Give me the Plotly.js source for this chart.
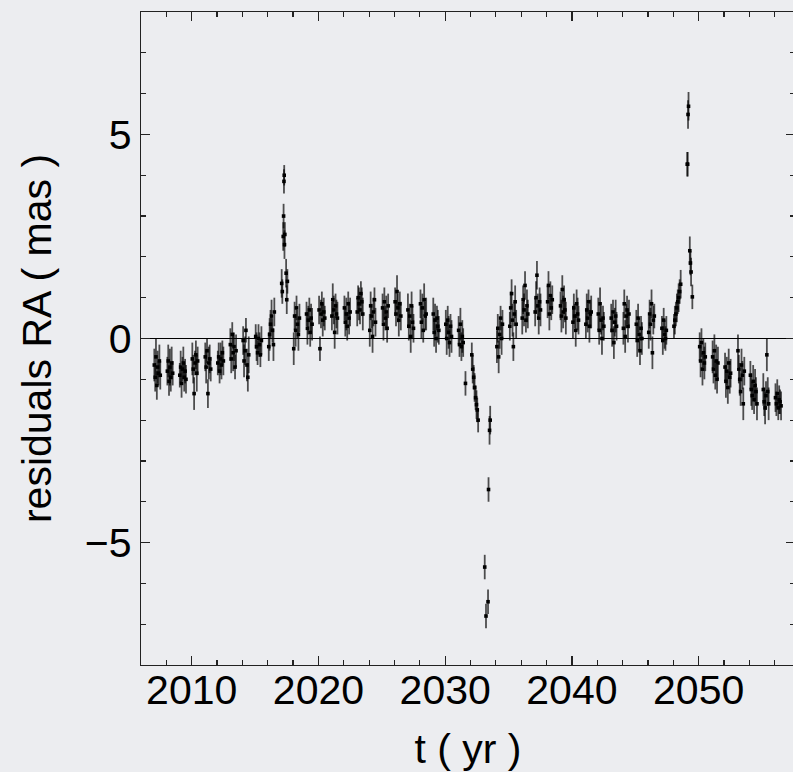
<!DOCTYPE html>
<html>
<head>
<meta charset="utf-8">
<script src="https://cdn.plot.ly/plotly-3.0.1.min.js"></script>
<style>
  html, body { margin: 0; padding: 0; background: #ecedf0; overflow: hidden; }
  #chart { width: 797px; height: 772px; }
</style>
</head>
<body>
<div id="chart"></div>
<script>
// Astrometric residuals in right ascension, one group of observations per season.
const tObs = [
  2007.05, 2007.12, 2007.18, 2007.25, 2007.31, 2007.38, 2007.45, 2007.52,
  2008.08, 2008.15, 2008.21, 2008.28, 2008.35, 2008.42, 2008.50,
  2009.06, 2009.13, 2009.20, 2009.27, 2009.34, 2009.41, 2009.48, 2009.55,
  2010.05, 2010.12, 2010.19, 2010.26, 2010.33, 2010.40, 2010.47,
  2011.07, 2011.14, 2011.21, 2011.28, 2011.35, 2011.42, 2011.50,
  2012.06, 2012.13, 2012.20, 2012.28, 2012.35, 2012.42, 2012.50,
  2013.05, 2013.12, 2013.20, 2013.27, 2013.34, 2013.42, 2013.50,
  2014.06, 2014.13, 2014.21, 2014.28, 2014.36, 2014.43, 2014.50,
  2015.05, 2015.12, 2015.20, 2015.27, 2015.35, 2015.42, 2015.50,
  2016.08, 2016.15, 2016.22, 2016.30, 2016.37, 2016.45, 2016.52,
  2017.10, 2017.15, 2017.22, 2017.25, 2017.28, 2017.30, 2017.32, 2017.35, 2017.45, 2017.50, 2017.55,
  2018.05, 2018.12, 2018.20, 2018.27, 2018.34, 2018.42, 2018.50,
  2019.06, 2019.13, 2019.20, 2019.28, 2019.35, 2019.42, 2019.50,
  2020.05, 2020.12, 2020.20, 2020.27, 2020.34, 2020.42, 2020.50,
  2021.06, 2021.13, 2021.21, 2021.28, 2021.35, 2021.42, 2021.50,
  2022.05, 2022.12, 2022.20, 2022.27, 2022.35, 2022.42, 2022.50,
  2023.06, 2023.13, 2023.20, 2023.28, 2023.35, 2023.42, 2023.50,
  2024.05, 2024.12, 2024.20, 2024.27, 2024.34, 2024.42, 2024.50,
  2025.06, 2025.13, 2025.20, 2025.28, 2025.35, 2025.42, 2025.50,
  2026.05, 2026.12, 2026.20, 2026.27, 2026.34, 2026.42, 2026.50,
  2027.06, 2027.13, 2027.21, 2027.28, 2027.35, 2027.42, 2027.50,
  2028.05, 2028.12, 2028.20, 2028.27, 2028.34, 2028.42, 2028.50,
  2029.06, 2029.13, 2029.20, 2029.28, 2029.35, 2029.42, 2029.50,
  2030.05, 2030.12, 2030.20, 2030.27, 2030.34, 2030.42, 2030.50,
  2031.06, 2031.13, 2031.20, 2031.28, 2031.35, 2031.42, 2031.60,
  2032.10, 2032.17, 2032.25, 2032.32, 2032.40, 2032.47, 2032.53, 2032.60,
  2033.12, 2033.22, 2033.38, 2033.42, 2033.50, 2033.55,
  2034.08, 2034.15, 2034.22, 2034.30, 2034.37, 2034.45, 2034.52,
  2035.10, 2035.17, 2035.24, 2035.31, 2035.38, 2035.45, 2035.52, 2035.60,
  2036.08, 2036.15, 2036.22, 2036.30, 2036.37, 2036.45, 2036.52,
  2037.10, 2037.17, 2037.24, 2037.31, 2037.38, 2037.45, 2037.52,
  2038.08, 2038.15, 2038.22, 2038.30, 2038.37, 2038.45,
  2039.10, 2039.17, 2039.24, 2039.31, 2039.38, 2039.45, 2039.52,
  2040.08, 2040.15, 2040.22, 2040.30, 2040.37, 2040.45, 2040.52,
  2041.10, 2041.17, 2041.24, 2041.31, 2041.38, 2041.45, 2041.52,
  2042.08, 2042.15, 2042.22, 2042.30, 2042.37, 2042.45, 2042.52,
  2043.10, 2043.17, 2043.24, 2043.31, 2043.38, 2043.45, 2043.52,
  2044.06, 2044.13, 2044.20, 2044.28, 2044.35, 2044.42, 2044.50,
  2045.08, 2045.15, 2045.22, 2045.30, 2045.37, 2045.45, 2045.52,
  2046.06, 2046.13, 2046.20, 2046.28, 2046.35, 2046.42, 2046.50,
  2047.10, 2047.17, 2047.24, 2047.31, 2047.38, 2047.45,
  2048.05, 2048.12, 2048.20, 2048.28, 2048.35, 2048.42, 2048.50, 2048.58,
  2049.10, 2049.13, 2049.16, 2049.20, 2049.30, 2049.35, 2049.40, 2049.50,
  2050.08, 2050.15, 2050.22, 2050.30, 2050.37, 2050.45, 2050.52,
  2051.10, 2051.17, 2051.24, 2051.31, 2051.38, 2051.45, 2051.52,
  2052.08, 2052.15, 2052.22, 2052.30, 2052.37, 2052.45, 2052.52,
  2053.10, 2053.17, 2053.24, 2053.31, 2053.38, 2053.45, 2053.52, 2053.60,
  2054.08, 2054.15, 2054.22, 2054.30, 2054.37, 2054.45, 2054.52, 2054.60,
  2055.10, 2055.17, 2055.24, 2055.31, 2055.38, 2055.45, 2055.52,
  2056.06, 2056.13, 2056.20, 2056.28, 2056.35, 2056.42, 2056.50
];

const raResid = [
  -0.65, -0.95, -0.45, -1.15, -0.70, -0.85, -0.55, -0.90,
  -0.80, -0.55, -1.05, -0.70, -0.95, -0.60, -0.85,
  -0.90, -0.70, -1.10, -0.75, -0.60, -0.95, -0.80, -1.00,
  -0.50, -0.75, -1.35, -0.60, -0.40, -0.85, -0.55,
  -0.45, -0.70, -0.30, -1.35, -0.60, -0.50, -0.75,
  -0.60, -0.45, -0.80, -0.50, -0.65, -0.35, -0.55,
  -0.15, -0.50, 0.10, -0.35, -0.20, -0.70, -0.30,
  -0.05, -0.55, -0.30, 0.20, -0.65, -0.95, -0.40,
  0.05, -0.20, -0.35, 0.00, -0.15, -0.40, -0.05,
  -0.20, 0.10, 0.35, 0.55, 0.20, -0.15, 0.65,
  1.35, 1.15, 2.50, 3.00, 3.85, 4.00, 2.30, 2.55, 1.60, 0.95, 1.40,
  -0.25, 0.55, 0.20, 0.75, 0.35, 0.10, 0.50,
  0.60, 0.25, 0.45, 0.70, 0.15, 0.50, 0.35,
  0.70, -0.25, 0.60, 0.85, 0.45, 0.65, 0.50,
  0.55, 0.95, 0.70, 0.15, 0.80, 0.60, 0.50,
  0.75, 0.40, 0.60, 0.30, 0.85, 0.50, 0.65,
  0.65, 1.00, 0.85, 0.70, 1.10, 0.90, 0.60,
  0.20, 0.80, 0.55, 0.05, 0.65, 0.95, 0.40,
  0.75, 0.35, 0.90, 0.50, 0.65, 0.25, 0.80,
  0.90, 0.60, 1.15, 0.75, 0.45, 0.85, 0.55,
  0.70, 0.30, 0.55, 0.05, 0.80, 0.40, 0.25,
  0.85, 0.40, 0.75, 0.20, 0.95, 0.55, 0.60,
  0.60, 0.15, 0.45, 0.00, 0.50, 0.30, 0.20,
  0.35, 0.00, 0.45, 0.15, -0.10, 0.30, 0.05,
  0.20, -0.15, 0.35, -0.20, 0.05, -0.10, -1.10,
  -0.40, -0.75, -0.95, -1.20, -1.45, -1.62, -1.75, -2.00,
  -5.60, -6.80, -6.45, -3.70, -2.25, -2.00,
  -0.20, 0.25, -0.45, 0.10, 0.50, 0.00, 0.35,
  0.30, 0.75, 1.10, 0.45, -0.20, 0.60, 0.90, 0.35,
  0.50, 0.95, 0.70, 1.30, 0.45, 0.80, 0.60,
  0.65, 1.00, 1.55, 0.80, 0.50, 0.90, 0.70,
  0.90, 1.30, 0.60, 1.05, 0.75, 0.95,
  0.80, 0.55, 1.20, 0.65, 0.95, 0.70, 0.50,
  0.40, 0.75, 0.55, 0.20, 0.85, 0.60, 0.45,
  0.35, 0.70, 0.50, 0.90, 0.30, 0.60, 0.65,
  0.60, 0.20, 0.85, 0.45, 0.00, 0.50, 0.30,
  0.50, 0.20, 0.65, -0.10, 0.40, 0.55, 0.30,
  0.25, 0.85, 0.05, 0.55, 0.70, 0.30, 0.60,
  0.35, -0.05, 0.50, 0.10, -0.30, 0.25, 0.00,
  0.15, 0.60, 0.35, 0.85, -0.35, 0.45, 0.55,
  0.25, -0.05, 0.45, 0.10, 0.00, 0.20,
  0.30, 0.45, 0.60, 0.75, 0.90, 1.00, 1.15, 1.33,
  4.27, 4.27, 5.49, 5.69, 2.15, 1.85, 1.63, 1.02,
  -0.20, -0.55, -0.10, -0.75, -0.35, -0.60, -0.45,
  -0.45, -0.75, -0.30, -0.90, -0.55, -1.00, -0.60,
  -0.70, -1.05, -0.80, -1.20, -0.60, -0.95, -0.85,
  -0.30, -0.75, -1.00, -1.30, -0.65, -0.90, -1.60, -0.80,
  -0.90, -1.25, -1.40, -1.05, -1.50, -1.15, -1.30, -1.60,
  -1.25, -1.55, -1.70, -1.40, -0.40, -1.30, -1.60,
  -1.45, -1.60, -1.35, -1.70, -1.50, -1.55, -1.65
];

const raErr = [
  0.40, 0.35, 0.45, 0.35, 0.40, 0.30, 0.40, 0.35,
  0.35, 0.40, 0.35, 0.45, 0.35, 0.40, 0.30,
  0.30, 0.40, 0.35, 0.30, 0.40, 0.35, 0.30, 0.35,
  0.40, 0.35, 0.40, 0.30, 0.35, 0.45, 0.35,
  0.35, 0.40, 0.30, 0.35, 0.40, 0.35, 0.30,
  0.30, 0.35, 0.30, 0.40, 0.35, 0.30, 0.35,
  0.40, 0.35, 0.30, 0.45, 0.35, 0.30, 0.40,
  0.35, 0.40, 0.35, 0.30, 0.40, 0.35, 0.45,
  0.30, 0.35, 0.30, 0.35, 0.30, 0.30, 0.35,
  0.35, 0.40, 0.35, 0.40, 0.30, 0.40, 0.35,
  0.35, 0.30, 0.35, 0.30, 0.30, 0.25, 0.35, 0.30, 0.35, 0.35, 0.30,
  0.40, 0.35, 0.40, 0.30, 0.35, 0.40, 0.35,
  0.30, 0.40, 0.35, 0.30, 0.35, 0.35, 0.40,
  0.35, 0.30, 0.35, 0.30, 0.40, 0.35, 0.30,
  0.35, 0.40, 0.35, 0.40, 0.30, 0.35, 0.40,
  0.30, 0.35, 0.40, 0.35, 0.30, 0.40, 0.35,
  0.35, 0.30, 0.40, 0.35, 0.30, 0.35, 0.40,
  0.40, 0.35, 0.30, 0.40, 0.35, 0.30, 0.35,
  0.35, 0.40, 0.35, 0.30, 0.40, 0.35, 0.30,
  0.35, 0.30, 0.40, 0.35, 0.40, 0.30, 0.35,
  0.40, 0.35, 0.30, 0.40, 0.35, 0.40, 0.35,
  0.35, 0.40, 0.35, 0.30, 0.40, 0.35, 0.40,
  0.40, 0.35, 0.40, 0.35, 0.30, 0.40, 0.35,
  0.35, 0.40, 0.35, 0.40, 0.35, 0.30, 0.40,
  0.35, 0.30, 0.40, 0.35, 0.40, 0.35, 0.30,
  0.30, 0.35, 0.30, 0.35, 0.30, 0.35, 0.30, 0.30,
  0.30, 0.30, 0.30, 0.30, 0.35, 0.35,
  0.40, 0.35, 0.40, 0.35, 0.30, 0.40, 0.35,
  0.35, 0.40, 0.35, 0.40, 0.35, 0.30, 0.40, 0.35,
  0.40, 0.35, 0.40, 0.35, 0.30, 0.40, 0.35,
  0.35, 0.40, 0.35, 0.30, 0.40, 0.35, 0.40,
  0.40, 0.35, 0.40, 0.35, 0.30, 0.35,
  0.35, 0.40, 0.35, 0.40, 0.35, 0.30, 0.40,
  0.40, 0.35, 0.30, 0.40, 0.35, 0.40, 0.35,
  0.35, 0.40, 0.35, 0.30, 0.40, 0.35, 0.40,
  0.40, 0.35, 0.40, 0.35, 0.40, 0.30, 0.35,
  0.35, 0.40, 0.30, 0.40, 0.35, 0.40, 0.35,
  0.40, 0.35, 0.40, 0.30, 0.35, 0.40, 0.35,
  0.35, 0.40, 0.35, 0.40, 0.35, 0.30, 0.40,
  0.40, 0.35, 0.40, 0.35, 0.40, 0.35, 0.30,
  0.30, 0.35, 0.30, 0.35, 0.30, 0.35,
  0.30, 0.35, 0.30, 0.35, 0.30, 0.35, 0.30, 0.35,
  0.30, 0.30, 0.35, 0.35, 0.35, 0.30, 0.35, 0.30,
  0.35, 0.40, 0.35, 0.40, 0.35, 0.40, 0.35,
  0.40, 0.35, 0.40, 0.35, 0.40, 0.35, 0.40,
  0.35, 0.40, 0.35, 0.40, 0.35, 0.40, 0.35,
  0.40, 0.35, 0.40, 0.35, 0.40, 0.35, 0.40, 0.35,
  0.35, 0.40, 0.35, 0.40, 0.35, 0.40, 0.35, 0.40,
  0.40, 0.35, 0.40, 0.35, 0.40, 0.35, 0.40,
  0.35, 0.30, 0.35, 0.30, 0.35, 0.30, 0.35
];

const xTickVals = [2010, 2020, 2030, 2040, 2050];
const yTickVals = [-5, 0, 5];
const yTickText = ['\u22125', '0', '5'];

const bg = '#ecedf0';
const font = 'Liberation Sans, Arial, Helvetica, sans-serif';

const trace = {
  type: 'scatter',
  mode: 'markers',
  x: tObs,
  y: raResid,
  // translucent bars so that overlapping observations build up to black
  error_y: { type: 'data', array: raErr, visible: true, color: 'rgba(0,0,0,0.68)', thickness: 1.8, width: 0 },
  marker: { color: '#000', size: 3.6, symbol: 'square' },
  hoverinfo: 'x+y'
};

const axisCommon = {
  showgrid: false,
  showline: true,
  linecolor: '#222',
  linewidth: 1.2,
  mirror: 'allticks',
  ticks: 'inside',
  tickcolor: '#222',
  tickwidth: 1.2,
  ticklen: 9,
  tickfont: { family: font, size: 41, color: '#000' }
};

const layout = {
  width: 797,
  height: 772,
  paper_bgcolor: bg,
  plot_bgcolor: bg,
  showlegend: false,
  margin: { l: 141, r: 2, t: 12, b: 107 },
  xaxis: Object.assign({}, axisCommon, {
    range: [2006, 2057.6],
    tickvals: xTickVals,
    ticktext: xTickVals.map(String),
    ticklabelstandoff: -11,
    zeroline: false,
    minor: { dtick: 2, tick0: 2006, ticks: 'inside', ticklen: 5, tickcolor: '#222', tickwidth: 1.2 },
    title: { text: 't ( yr )', standoff: 23, font: { family: font, size: 41, color: '#000' } }
  }),
  yaxis: Object.assign({}, axisCommon, {
    range: [-8, 8],
    tickvals: yTickVals,
    ticktext: yTickText,
    zeroline: true,
    zerolinecolor: '#000',
    zerolinewidth: 1.2,
    minor: { dtick: 1, tick0: 0, ticks: 'inside', ticklen: 5, tickcolor: '#222', tickwidth: 1.2 },
    title: { text: 'residuals RA ( mas )', standoff: 20, font: { family: font, size: 41, color: '#000' } }
  })
};

Plotly.newPlot('chart', [trace], layout, { displayModeBar: false, staticPlot: true });
</script>
</body>
</html>
